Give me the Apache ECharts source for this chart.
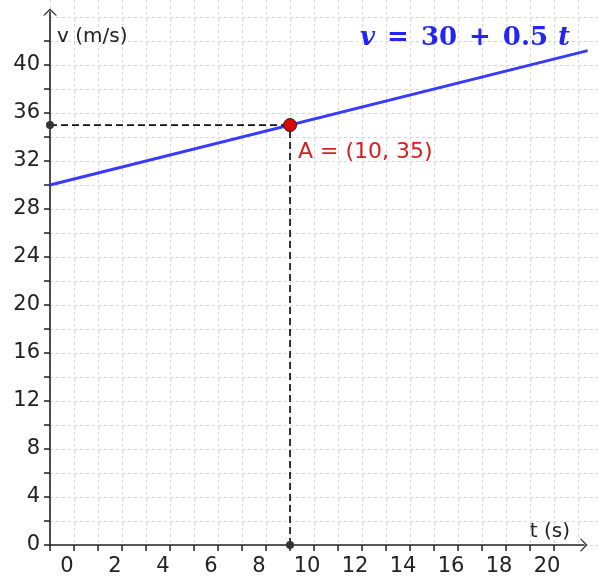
<!DOCTYPE html>
<html>
<head>
<meta charset="utf-8">
<script src="https://cdn.jsdelivr.net/npm/echarts@6/dist/echarts.min.js"></script>
<style>html,body{margin:0;padding:0;background:#fff;}#c{width:598px;height:578px;}</style>
</head>
<body>
<div id="c"></div>
<script>
// ---- data ----
const xLabelValues = [0, 2, 4, 6, 8, 10, 12, 14, 16, 18, 20];
const yLabelValues = [0, 4, 8, 12, 16, 20, 24, 28, 32, 36, 40];
const xTickValues = [0, 1, 2, 3, 4, 5, 6, 7, 8, 9, 10, 11, 12, 13, 14, 15, 16, 17, 18, 19, 20, 21];
const yTickValues = [0, 2, 4, 6, 8, 10, 12, 14, 16, 18, 20, 22, 24, 26, 28, 30, 32, 34, 36, 38, 40, 42];
const lineT = [0, 22.4];
const lineV = [30, 41.2];
const pointA = [10, 35];
const pointName = 'A';
const intercept = 30;
const slope = 0.5;
const xName = 't (s)';
const yName = 'v (m/s)';
const axisRangeX = [0, 22.25];
const axisRangeY = [0, 44.42];
const gridRangeX = [0, 22.83];
const gridRangeY = [0, 45.42];

// ---- build ----
const sans = 'DejaVu Sans';
const lineData = lineT.map((t, i) => [t, lineV[i]]);
const hDash = [[0, pointA[1]], [pointA[0], pointA[1]]];
const vDash = [[pointA[0], 0], [pointA[0], pointA[1]]];
const axisDots = [[0, pointA[1]], [pointA[0], 0]];
const chevron = 'path://M0,7 L7,0 L14,7 L12.4,7 L7,1.7 L1.6,7 Z';
const fBlue = '#2424f4';
const fBase = {fontFamily: 'DejaVu Serif', fontWeight: 'bold', fontSize: 26, color: fBlue};

const chart = echarts.init(document.getElementById('c'), null, {renderer: 'canvas'});
chart.setOption({
  animation: false,
  backgroundColor: '#ffffff',
  title: {
    text: '{v|v}{o|=}{n|' + intercept + '}{o|+}{n|' + slope + '}{t|t}',
    left: 360, top: 25, padding: 0,
    textStyle: {
      rich: {
        v: Object.assign({}, fBase, {fontStyle: 'italic'}),
        o: Object.assign({}, fBase, {padding: [0, 12, 0, 12]}),
        n: Object.assign({}, fBase),
        t: Object.assign({}, fBase, {fontStyle: 'italic', padding: [0, 0, 0, 10]})
      }
    }
  },
  grid: [
    {left: 50, right: 0, top: 0, bottom: 33, outerBoundsMode: 'none', containLabel: false},
    {left: 50, right: 14, top: 12, bottom: 33, outerBoundsMode: 'none', containLabel: false}
  ],
  xAxis: [
    {
      gridIndex: 0, type: 'value', min: gridRangeX[0], max: gridRangeX[1], interval: 1,
      axisLine: {show: false}, axisTick: {show: false}, axisLabel: {show: false},
      splitLine: {show: true, showMaxLine: false, lineStyle: {color: '#d6d6d6', width: 1, type: [3, 3]}}
    },
    {
      gridIndex: 1, type: 'value', min: axisRangeX[0], max: axisRangeX[1], interval: 1,
      name: xName, nameLocation: 'end', nameGap: -14, nameMoveOverlap: false,
      nameTextStyle: {fontFamily: sans, fontSize: 20, color: '#222', align: 'right', verticalAlign: 'bottom', padding: [0, 0, 3, 0]},
      axisLine: {show: true, onZero: false, symbol: ['none', chevron], symbolSize: [14, 7], lineStyle: {color: '#222', width: 1.6}},
      axisTick: {show: true, customValues: xTickValues, length: 6, lineStyle: {color: '#222', width: 1.5}},
      axisLabel: {show: true, customValues: xLabelValues, formatter: v => String(v), fontFamily: sans, fontSize: 21, color: '#222', margin: 11, padding: [0, 0, 0, 34], hideOverlap: false},
      splitLine: {show: false}
    }
  ],
  yAxis: [
    {
      gridIndex: 0, type: 'value', min: gridRangeY[0], max: gridRangeY[1], interval: 2,
      axisLine: {show: false}, axisTick: {show: false}, axisLabel: {show: false},
      splitLine: {show: true, showMaxLine: false, lineStyle: {color: '#d6d6d6', width: 1, type: [3, 3]}}
    },
    {
      gridIndex: 1, type: 'value', min: axisRangeY[0], max: axisRangeY[1], interval: 2,
      name: yName, nameLocation: 'end', nameGap: -25, nameMoveOverlap: false,
      nameTextStyle: {fontFamily: sans, fontSize: 20, color: '#222', align: 'left', verticalAlign: 'middle', padding: [0, 0, 0, 7]},
      axisLine: {show: true, onZero: false, symbol: ['none', chevron], symbolSize: [14, 7], lineStyle: {color: '#222', width: 1.6}},
      axisTick: {show: true, customValues: yTickValues, length: 6, lineStyle: {color: '#222', width: 1.5}},
      axisLabel: {show: true, customValues: yLabelValues, formatter: v => String(v), fontFamily: sans, fontSize: 21, color: '#222', margin: 10, padding: [0, 0, 24, 0], hideOverlap: false},
      splitLine: {show: false}
    }
  ],
  series: [
    {
      type: 'line', xAxisIndex: 0, yAxisIndex: 0, data: lineData, symbol: 'none', z: 3,
      lineStyle: {color: '#3a3aff', width: 3}
    },
    {
      type: 'line', xAxisIndex: 0, yAxisIndex: 0, data: hDash, symbol: 'none', z: 4,
      lineStyle: {color: '#111', width: 1.7, type: [7, 4]}
    },
    {
      type: 'line', xAxisIndex: 0, yAxisIndex: 0, data: vDash, symbol: 'none', z: 4,
      lineStyle: {color: '#111', width: 1.7, type: [7, 4]}
    },
    {
      type: 'scatter', xAxisIndex: 0, yAxisIndex: 0, data: axisDots, symbolSize: 8, z: 5,
      itemStyle: {color: '#333', opacity: 1}
    },
    {
      type: 'scatter', xAxisIndex: 0, yAxisIndex: 0, data: [pointA], symbolSize: 13, z: 6,
      itemStyle: {color: '#dd0000', borderColor: '#222', borderWidth: 1, opacity: 1},
      label: {
        show: true, position: 'inside', align: 'left', verticalAlign: 'middle', offset: [8, 27],
        formatter: () => pointName + ' = (' + pointA[0] + ', ' + pointA[1] + ')',
        fontFamily: sans, fontSize: 22, color: '#d42020', textBorderWidth: 0
      }
    }
  ]
});
</script>
</body>
</html>
